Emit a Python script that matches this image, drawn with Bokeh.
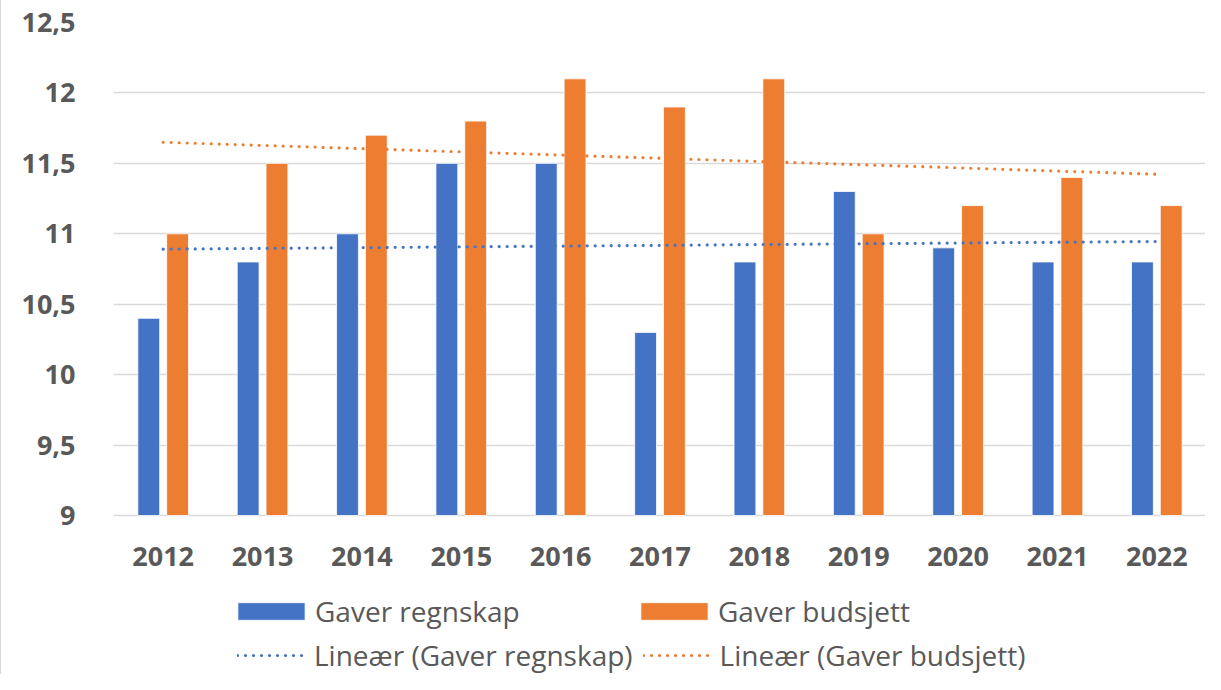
import numpy as np
from bokeh.plotting import figure
from bokeh.models import (ColumnDataSource, Legend, LegendItem, FixedTicker,
                          Range1d, FactorRange, LabelSet)
from bokeh.core.properties import value
from bokeh.transform import dodge
from bokeh.embed import file_html
from bokeh.resources import INLINE

years = ["2012", "2013", "2014", "2015", "2016", "2017", "2018", "2019", "2020", "2021", "2022"]
regnskap = [10.4, 10.8, 11.0, 11.5, 11.5, 10.3, 10.8, 11.3, 10.9, 10.8, 10.8]
budsjett = [11.0, 11.5, 11.7, 11.8, 12.1, 11.9, 12.1, 11.0, 11.2, 11.4, 11.2]
y_ticks = [9, 9.5, 10, 10.5, 11, 11.5, 12, 12.5]
y_tick_labels = ["9", "9,5", "10", "10,5", "11", "11,5", "12", "12,5"]
series_names = ["Gaver regnskap", "Gaver budsjett"]
trend_names = ["Lineær (Gaver regnskap)", "Lineær (Gaver budsjett)"]

Y_MIN, Y_MAX = y_ticks[0], y_ticks[-1]

BLUE = "#4472C4"
ORANGE = "#ED7D31"
TEXT = "#595959"
GRID = "#D9D9D9"
FONT = "Open Sans"

# layout (pixels)
W, H = 1205, 674
TOP = 22            # y of the top gridline
AXIS_Y = 515        # y of the baseline gridline
LEFT = 112
px_per_unit = (AXIS_Y - TOP) / (Y_MAX - Y_MIN)
y_start = Y_MAX - (H - TOP) / px_per_unit   # frame extends to the bottom so the legend fits inside

idx = np.arange(len(years))
trend_r = np.polyval(np.polyfit(idx, regnskap, 1), idx)
trend_b = np.polyval(np.polyfit(idx, budsjett, 1), idx)

src = ColumnDataSource(dict(year=years, regnskap=regnskap, budsjett=budsjett,
                            trend_r=trend_r, trend_b=trend_b,
                            base=[Y_MIN] * len(years)))

p = figure(x_range=FactorRange(*years), y_range=Range1d(y_start, Y_MAX),
           width=W, height=H, output_backend="svg", toolbar_location=None,
           min_border_left=LEFT, min_border_right=0, min_border_top=TOP,
           min_border_bottom=0)
p.styles = {"border-left": "1px solid #D9D9D9"}
p.outline_line_color = None
p.background_fill_color = "white"
p.border_fill_color = "white"
p.xaxis.visible = False

b1 = p.vbar(x=dodge("year", -0.145, range=p.x_range), top="regnskap", bottom="base",
            width=0.22, source=src, fill_color=BLUE, line_color="white", line_width=0.8)
b2 = p.vbar(x=dodge("year", 0.145, range=p.x_range), top="budsjett", bottom="base",
            width=0.22, source=src, fill_color=ORANGE, line_color="white", line_width=0.8)

l1 = p.line(x="year", y="trend_r", source=src, line_color=BLUE, line_width=3.2,
            line_dash="0 8", line_cap="round")
l2 = p.line(x="year", y="trend_b", source=src, line_color=ORANGE, line_width=3.2,
            line_dash="0 8", line_cap="round")

p.xgrid.grid_line_color = None
p.ygrid.grid_line_color = GRID
p.ygrid.grid_line_width = 1.5
p.ygrid.ticker = FixedTicker(ticks=y_ticks)

p.yaxis.ticker = FixedTicker(ticks=y_ticks)
p.yaxis.major_label_overrides = {(int(t) if float(t).is_integer() else t): lab
                                 for t, lab in zip(y_ticks, y_tick_labels)}
p.yaxis.axis_line_color = None
p.yaxis.major_tick_line_color = None
p.yaxis.minor_tick_line_color = None
p.yaxis.major_label_standoff = 32
p.yaxis.major_label_text_font = FONT
p.yaxis.major_label_text_font_size = "27px"
p.yaxis.major_label_text_font_style = "bold"
p.yaxis.major_label_text_color = TEXT

# category labels under the baseline
year_labels = LabelSet(x="year", y="base", text="year", source=src, y_offset=-41,
                       text_align="center", text_baseline="middle",
                       text_font=value(FONT), text_font_size=value("27px"),
                       text_font_style="bold", text_color=TEXT)
p.add_layout(year_labels)

common = dict(orientation="horizontal", padding=0, margin=0, spacing=10,
              border_line_color=None, background_fill_alpha=0,
              label_text_font=FONT, label_text_font_size="28px",
              label_text_color=TEXT)

leg1 = Legend(items=[LegendItem(label=series_names[0], renderers=[b1]),
                     LegendItem(label=series_names[1], renderers=[b2])],
              location=(116, 44), glyph_width=84, glyph_height=22,
              label_standoff=2, label_width=307, label_height=22, **common)
leg2 = Legend(items=[LegendItem(label=trend_names[0], renderers=[l1]),
                     LegendItem(label=trend_names[1], renderers=[l2])],
              location=(124, 0), glyph_width=67, glyph_height=22,
              label_standoff=10, label_width=316, label_height=22, **common)
p.add_layout(leg1, "center")
p.add_layout(leg2, "center")

open("out.html", "w").write(file_html(p, INLINE))
